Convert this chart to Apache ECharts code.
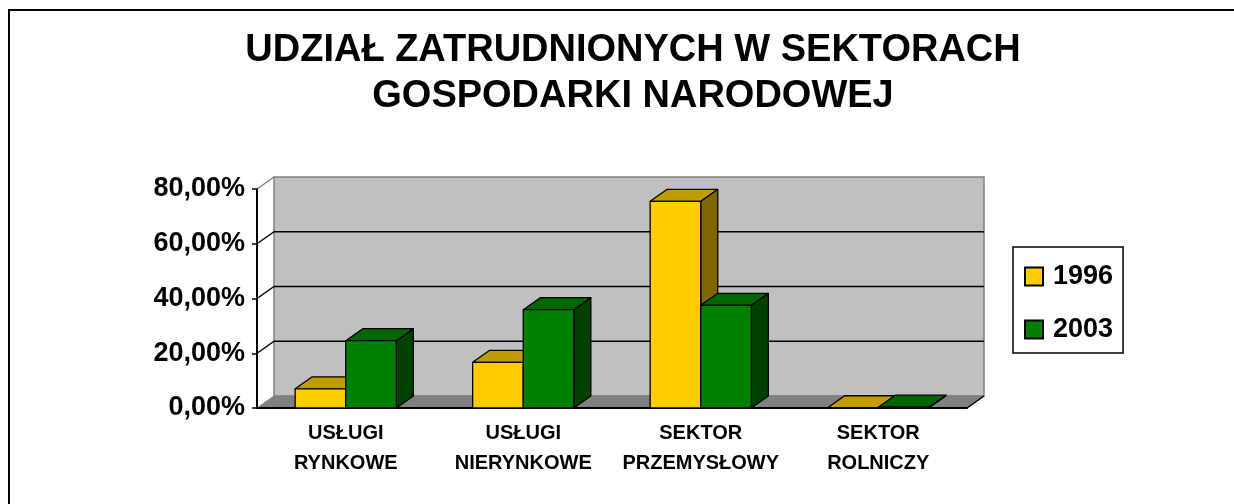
<!DOCTYPE html>
<html>
<head>
<meta charset="utf-8">
<title>Udział zatrudnionych w sektorach gospodarki narodowej</title>
<script src="https://cdn.jsdelivr.net/npm/echarts@6/dist/echarts.min.js"></script>
<style>
  html, body { margin: 0; padding: 0; background: #fff; }
  #chart { width: 1234px; height: 504px; }
</style>
</head>
<body>
<div id="chart"></div>
<script>
// dane (w %)
const categories = ['USŁUGI\nRYNKOWE', 'USŁUGI\nNIERYNKOWE', 'SEKTOR\nPRZEMYSŁOWY', 'SEKTOR\nROLNICZY'];
const years = ['1996', '2003'];
const values1996 = [7.0, 16.7, 75.5, 0.1];
const values2003 = [24.6, 35.9, 37.5, 0.3];
const yTicks = [0, 20, 40, 60, 80];

const FONT = 'Arial, "Liberation Sans", sans-serif';
// glebia efektu 3D
const DX = 17, DY = -12;
const BAR_RATIO = 0.285;

const faceColors = [
  { front: '#FFCC00', top: '#C09C00', side: '#806600' },
  { front: '#008000', top: '#006600', side: '#004000' }
];

function bar3d(idx) {
  return function (params, api) {
    const cat = api.value(0);
    const v = api.value(1);
    const base = api.coord([cat, 0]);
    const top = api.coord([cat, v]);
    const w = api.size([1, 0])[0] * BAR_RATIO;
    const x0 = base[0] + (idx === 0 ? -w : 0);
    const x1 = x0 + w;
    const y0 = base[1], y1 = top[1];
    const c = faceColors[idx];
    const stroke = { stroke: '#000', lineWidth: 1.3, lineJoin: 'round' };
    return {
      type: 'group',
      children: [
        {
          type: 'polygon',
          shape: { points: [[x1, y0], [x1 + DX, y0 + DY], [x1 + DX, y1 + DY], [x1, y1]] },
          style: Object.assign({ fill: c.side }, stroke)
        },
        {
          type: 'polygon',
          shape: { points: [[x0, y1], [x1, y1], [x1 + DX, y1 + DY], [x0 + DX, y1 + DY]] },
          style: Object.assign({ fill: c.top }, stroke)
        },
        {
          type: 'rect',
          shape: { x: x0, y: y1, width: w, height: y0 - y1 },
          style: Object.assign({ fill: c.front }, stroke)
        }
      ]
    };
  };
}

// sciana tylna, podloga i linie siatki
function wallItem(params, api) {
  const cs = params.coordSys;
  const x = cs.x, y = cs.y, w = cs.width, h = cs.height;
  const children = [
    {
      type: 'rect',
      shape: { x: x + DX, y: y + DY, width: w, height: h },
      style: { fill: '#C0C0C0', stroke: '#808080', lineWidth: 1.5 }
    },
    {
      type: 'polygon',
      shape: { points: [[x, y + h], [x + w, y + h], [x + w + DX, y + h + DY], [x + DX, y + h + DY]] },
      style: { fill: '#808080', stroke: '#808080', lineWidth: 1 }
    },
    {
      type: 'line',
      shape: { x1: x + w, y1: y + h, x2: x + w + DX, y2: y + h + DY },
      style: { stroke: '#000', lineWidth: 1.5 }
    }
  ];
  yTicks.forEach(function (t) {
    if (t === 0) return;
    const yy = api.coord([0, t])[1];
    const top = t === yTicks[yTicks.length - 1];
    children.push({
      type: 'line',
      shape: { x1: x, y1: yy, x2: x + DX, y2: yy + DY },
      style: { stroke: top ? '#808080' : '#000', lineWidth: 1.5 }
    });
    if (!top) {
      children.push({
        type: 'line',
        shape: { x1: x + DX, y1: yy + DY, x2: x + w + DX, y2: yy + DY },
        style: { stroke: '#000', lineWidth: 1.5 }
      });
    }
  });
  return { type: 'group', children: children };
}

const chart = echarts.init(document.getElementById('chart'), null, { renderer: 'canvas' });

chart.setOption({
  backgroundColor: '#fff',
  animation: false,
  graphic: [
    {
      type: 'rect',
      shape: { x: 9, y: 10, width: 1400, height: 700 },
      style: { fill: 'none', stroke: '#000', lineWidth: 2 },
      silent: true
    },
    {
      type: 'text',
      x: 633,
      y: 28,
      style: {
        text: 'UDZIAŁ ZATRUDNIONYCH W SEKTORACH\nGOSPODARKI NARODOWEJ',
        font: 'bold 38px ' + FONT,
        fill: '#000',
        align: 'center',
        verticalAlign: 'top',
        lineHeight: 46
      }
    }
  ],
  legend: {
    data: years,
    orient: 'vertical',
    left: 1013,
    top: 247,
    padding: [16, 10, 10, 11],
    itemGap: 26,
    itemWidth: 18,
    itemHeight: 18,
    icon: 'rect',
    borderColor: '#000',
    borderWidth: 1.5,
    backgroundColor: '#fff',
    textStyle: {
      fontFamily: FONT,
      fontSize: 27,
      fontWeight: 'bold',
      color: '#000',
      lineHeight: 20,
      padding: [0, 0, 0, 5]
    }
  },
  grid: { left: 257, top: 189, width: 710, height: 219, containLabel: false },
  xAxis: {
    type: 'category',
    data: categories,
    z: 3,
    axisLine: { lineStyle: { color: '#000', width: 2 } },
    axisTick: { length: 6, lineStyle: { color: '#000', width: 1.5 } },
    axisLabel: {
      interval: 0,
      margin: 11,
      fontFamily: FONT,
      fontSize: 20,
      fontWeight: 'bold',
      color: '#000',
      lineHeight: 29.5
    },
    splitLine: { show: false }
  },
  yAxis: {
    type: 'value',
    min: 0,
    max: 80,
    interval: 20,
    z: 3,
    axisLine: { show: true, lineStyle: { color: '#000', width: 2 } },
    axisTick: { show: true, length: 5, lineStyle: { color: '#000', width: 1.5 } },
    axisLabel: {
      margin: 12,
      fontFamily: FONT,
      fontSize: 27,
      fontWeight: 'bold',
      color: '#000',
      formatter: function (v) { return v.toFixed(2).replace('.', ',') + '%'; }
    },
    splitLine: { show: false }
  },
  series: [
    {
      name: 'sciana',
      type: 'custom',
      z: 1,
      silent: true,
      renderItem: wallItem,
      data: [[0, 0]]
    },
    {
      name: years[0],
      type: 'custom',
      z: 4,
      renderItem: bar3d(0),
      itemStyle: { color: faceColors[0].front, borderColor: '#000', borderWidth: 1 },
      encode: { x: 0, y: 1 },
      data: values1996.map(function (v, i) { return [i, v]; })
    },
    {
      name: years[1],
      type: 'custom',
      z: 4,
      renderItem: bar3d(1),
      itemStyle: { color: faceColors[1].front, borderColor: '#000', borderWidth: 1 },
      encode: { x: 0, y: 1 },
      data: values2003.map(function (v, i) { return [i, v]; })
    }
  ]
});
</script>
</body>
</html>
